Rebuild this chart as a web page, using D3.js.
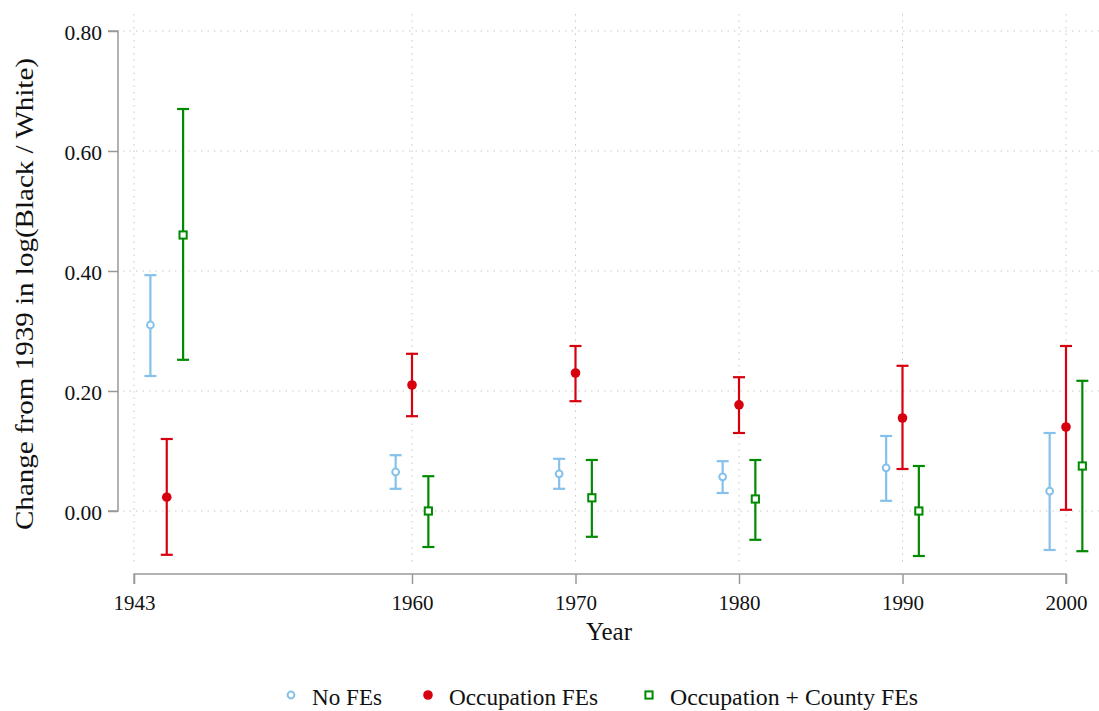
<!DOCTYPE html>
<html lang='en'>

<head>
    <meta charset='UTF-8'>
    <title></title>
    <script src="https://cdn.jsdelivr.net/npm/d3@7"></script>
    <style>
        body { margin: 0; background: #fff; }
        text { font-family: "Liberation Serif", "DejaVu Serif", serif; fill: #111; }
    </style>
</head>

<body>
    <svg class="chart"></svg>
</body>
<script>
    // data
    const tickYears = [1943, 1960, 1970, 1980, 1990, 2000];
    const yTicks = [0, 0.2, 0.4, 0.6, 0.8];
    const seriesNames = ["No FEs", "Occupation FEs", "Occupation + County FEs"];
    // x position of each series (years), the 1943 group is drawn a bit to the right
    const xNoFE = [1944, 1959, 1969, 1979, 1989, 1999];
    const xOcc = [1945, 1960, 1970, 1980, 1990, 2000];
    const xCounty = [1946, 1961, 1971, 1981, 1991, 2001];
    const estNoFE = [0.310, 0.065, 0.062, 0.057, 0.072, 0.033];
    const loNoFE = [0.225, 0.037, 0.037, 0.030, 0.017, -0.065];
    const hiNoFE = [0.393, 0.093, 0.087, 0.083, 0.125, 0.130];
    const estOcc = [0.023, 0.210, 0.230, 0.177, 0.155, 0.140];
    const loOcc = [-0.073, 0.158, 0.183, 0.130, 0.070, 0.002];
    const hiOcc = [0.120, 0.262, 0.275, 0.223, 0.242, 0.275];
    const estCounty = [0.460, 0.000, 0.022, 0.020, 0.000, 0.075];
    const loCounty = [0.252, -0.060, -0.043, -0.048, -0.075, -0.067];
    const hiCounty = [0.670, 0.058, 0.085, 0.085, 0.075, 0.217];

    const svgWidth = 1099;
    const svgHeight = 711;

    const svg = d3.select(".chart")
        .attr("width", svgWidth)
        .attr("height", svgHeight);

    const x = d3.scaleLinear().domain([1960, 2000]).range([412, 1066]);
    const y = d3.scaleLinear().domain([0, 0.8]).range([511, 31]);

    const plotTop = 14, plotBottom = 566, axisY = 574, axisX = 118;

    // grid
    const grid = svg.append("g");
    grid.selectAll(".hg").data(yTicks).join("line")
        .attr("x1", 123).attr("x2", svgWidth)
        .attr("y1", d => y(d)).attr("y2", d => y(d))
        .attr("stroke", "#c8c8c8").attr("stroke-width", 1)
        .attr("stroke-dasharray", "1.5,5");
    grid.selectAll(".vg").data(tickYears).join("line")
        .attr("x1", d => x(d)).attr("x2", d => x(d))
        .attr("y1", plotTop).attr("y2", plotBottom)
        .attr("stroke", "#c8c8c8").attr("stroke-width", 1)
        .attr("stroke-dasharray", "1.5,5");

    // y axis (range frame)
    const yAxis = d3.axisLeft(y).tickValues(yTicks).tickFormat(d3.format(".2f")).tickSize(10).tickPadding(6);
    const gy = svg.append("g").attr("transform", `translate(${axisX},0)`).call(yAxis)
        .attr("font-family", null).attr("font-size", null);
    gy.select(".domain").attr("stroke", "#999").attr("stroke-width", 1.5).attr("d", `M-10,${y(0.8)}H0V${y(0)}H-10`);
    gy.selectAll(".tick line").attr("stroke", "#999").attr("stroke-width", 1.5);
    gy.selectAll(".tick text").style("font-size", "21.5px").attr("fill", "#111").attr("dy", "0.4em");

    // x axis (range frame)
    const xAxis = d3.axisBottom(x).tickValues(tickYears).tickFormat(d3.format("d")).tickSize(10).tickPadding(11);
    const gx = svg.append("g").attr("transform", `translate(0,${axisY})`).call(xAxis)
        .attr("font-family", null).attr("font-size", null);
    gx.select(".domain").attr("stroke", "#999").attr("stroke-width", 1.5).attr("d", `M${x(1943)},10V0H${x(2000)}V10`);
    gx.selectAll(".tick line").attr("stroke", "#999").attr("stroke-width", 1.5);
    gx.selectAll(".tick text").style("font-size", "21px").attr("fill", "#111");

    // titles
    svg.append("text").attr("x", 609).attr("y", 640).attr("text-anchor", "middle")
        .style("font-size", "25px").text("Year");
    svg.append("text").attr("transform", "translate(33,294) rotate(-90)").attr("text-anchor", "middle")
        .style("font-size", "26px")
        .attr("textLength", 472).attr("lengthAdjust", "spacingAndGlyphs")
        .text("Change from 1939 in log(Black / White)");

    // series
    const series = [
        { xs: xNoFE, est: estNoFE, lo: loNoFE, hi: hiNoFE, color: "#85c1ea", shape: "hollowCircle" },
        { xs: xOcc, est: estOcc, lo: loOcc, hi: hiOcc, color: "#d7000f", shape: "dot" },
        { xs: xCounty, est: estCounty, lo: loCounty, hi: hiCounty, color: "#008a00", shape: "square" }
    ];

    function drawMarker(g, shape, color, cx, cy) {
        if (shape === "hollowCircle") {
            g.append("circle").attr("cx", cx).attr("cy", cy).attr("r", 3.4)
                .attr("fill", "#fff").attr("stroke", color).attr("stroke-width", 2);
        } else if (shape === "dot") {
            g.append("circle").attr("cx", cx).attr("cy", cy).attr("r", 4.8).attr("fill", color);
        } else {
            g.append("rect").attr("x", cx - 3.6).attr("y", cy - 3.6).attr("width", 7.2).attr("height", 7.2)
                .attr("fill", "#fff").attr("stroke", color).attr("stroke-width", 2);
        }
    }

    const capHalf = 6;
    series.forEach(s => {
        const g = svg.append("g");
        s.est.forEach((v, i) => {
            const cx = x(s.xs[i]);
            g.append("line").attr("x1", cx).attr("x2", cx).attr("y1", y(s.lo[i])).attr("y2", y(s.hi[i]))
                .attr("stroke", s.color).attr("stroke-width", 2.2);
            [s.lo[i], s.hi[i]].forEach(b => {
                g.append("line").attr("x1", cx - capHalf).attr("x2", cx + capHalf).attr("y1", y(b)).attr("y2", y(b))
                    .attr("stroke", s.color).attr("stroke-width", 2.2);
            });
            drawMarker(g, s.shape, s.color, cx, y(v));
        });
    });

    // legend
    const legendX = [291, 428, 649];
    const legendW = [70, 149, 248];
    const legend = svg.append("g");
    series.forEach((s, i) => {
        drawMarker(legend, s.shape, s.color, legendX[i], 695);
        legend.append("text").attr("x", legendX[i] + 21).attr("y", 705)
            .style("font-size", "23px")
            .attr("textLength", legendW[i]).attr("lengthAdjust", "spacingAndGlyphs")
            .text(seriesNames[i]);
    });
</script>

</html>
